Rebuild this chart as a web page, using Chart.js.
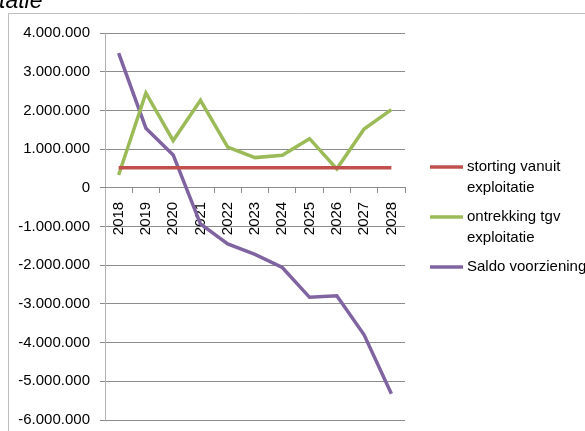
<!DOCTYPE html>
<html>
<head>
<meta charset="utf-8">
<script src="https://cdn.jsdelivr.net/npm/chart.js@4"></script>
<style>
  html, body { margin: 0; padding: 0; background: #fff; }
  #wrap { position: relative; width: 585px; height: 431px; overflow: hidden; }
</style>
</head>
<body>
<div id="wrap"><canvas id="chart" width="585" height="431"></canvas></div>
<script>
"use strict";

const TITLE_TEXT = "tatie";
const YEARS = ["2018", "2019", "2020", "2021", "2022", "2023", "2024", "2025", "2026", "2027", "2028"];
const SERIES_NAMES = ["storting vanuit exploitatie", "ontrekking tgv exploitatie", "Saldo voorziening"];
const STORTING = [520000, 520000, 520000, 520000, 520000, 520000, 520000, 520000, 520000, 520000, 520000];
const ONTREKKING = [330000, 2450000, 1220000, 2260000, 1050000, 780000, 840000, 1270000, 490000, 1520000, 2020000];
const SALDO = [3480000, 1540000, 850000, -930000, -1450000, -1720000, -2060000, -2830000, -2790000, -3800000, -5320000];
const Y_MIN = -6000000;
const Y_MAX = 4000000;
const Y_STEP = 1000000;

// Excel 2007 default palette
const COLORS = ["#c0504d", "#9bbb59", "#8064a2"];
const FONT = "'Liberation Sans', Arial, sans-serif";

function fmtNumber(v) {
  if (v === 0) return "0";
  const s = Math.abs(v).toString().replace(/\B(?=(\d{3})+(?!\d))/g, ".");
  return (v < 0 ? "-" : "") + s;
}

// frame + cut-off title, drawn under the chart
const framePlugin = {
  id: "frame",
  beforeDraw(chart) {
    const ctx = chart.ctx;
    ctx.save();
    ctx.fillStyle = "#fff";
    ctx.fillRect(0, 0, chart.width, chart.height);
    ctx.strokeStyle = "#bdbdbd";
    ctx.lineWidth = 1;
    ctx.beginPath();
    ctx.moveTo(8.5, chart.height);
    ctx.lineTo(8.5, 13.5);
    ctx.lineTo(chart.width, 13.5);
    ctx.stroke();
    ctx.fillStyle = "#000";
    ctx.font = "italic 23px " + FONT;
    ctx.textBaseline = "alphabetic";
    ctx.fillText(TITLE_TEXT, -1, 8);
    ctx.restore();
  }
};

// legend on the right with wrapped labels, like Excel does
const legendPlugin = {
  id: "sideLegend",
  afterDraw(chart) {
    const ctx = chart.ctx;
    const lineH = 21;
    const maxW = 125;
    let y = 167;
    ctx.save();
    ctx.font = "15px " + FONT;
    ctx.textBaseline = "middle";
    chart.data.datasets.forEach(ds => {
      // word wrap
      const words = ds.label.split(" ");
      const lines = [];
      let cur = "";
      words.forEach(w => {
        const test = cur ? cur + " " + w : w;
        if (cur && ctx.measureText(test).width > maxW) {
          lines.push(cur);
          cur = w;
        } else {
          cur = test;
        }
      });
      if (cur) lines.push(cur);

      ctx.strokeStyle = ds.borderColor;
      ctx.lineWidth = 3.5;
      ctx.beginPath();
      ctx.moveTo(430, y);
      ctx.lineTo(463, y);
      ctx.stroke();

      ctx.fillStyle = "#000";
      lines.forEach((ln, i) => ctx.fillText(ln, 467, y + i * lineH));
      y += lines.length * lineH + 8;
    });
    ctx.restore();
  }
};

Chart.defaults.font.family = FONT;
Chart.defaults.font.size = 15;
Chart.defaults.color = "#000";

const ctx = document.getElementById("chart").getContext("2d");
const _ = new Chart(ctx, {
  type: "line",
  data: {
    labels: YEARS,
    datasets: [
      { label: SERIES_NAMES[0], data: STORTING },
      { label: SERIES_NAMES[1], data: ONTREKKING },
      { label: SERIES_NAMES[2], data: SALDO },
    ].map((d, i) => Object.assign(d, {
      borderColor: COLORS[i],
      backgroundColor: COLORS[i],
      borderWidth: 3.5,
      pointRadius: 0,
      tension: 0,
      fill: false,
    })),
  },
  options: {
    responsive: false,
    animation: false,
    layout: { padding: { left: 0, top: 33, right: 180, bottom: 11 } },
    plugins: {
      legend: { display: false },
      tooltip: { enabled: false },
    },
    scales: {
      y: {
        min: Y_MIN,
        max: Y_MAX,
        afterFit: s => {
          s.width = 105;
          // tick padding also pads top/bottom, which Excel does not do
          s.paddingTop = 0;
          s.paddingBottom = 0;
        },
        ticks: {
          stepSize: Y_STEP,
          padding: 10,
          callback: v => fmtNumber(v),
        },
        grid: { color: "#8c8c8c", tickLength: 5 },
        border: { display: true, color: "#b0b0b0" },
      },
      x: {
        position: { y: 0 },
        offset: true,
        ticks: { minRotation: 90, maxRotation: 90, autoSkip: false, padding: 9 },
        grid: { offset: true, drawOnChartArea: false, drawTicks: true, tickLength: 5, color: "#8c8c8c" },
        border: { display: true, color: "#8c8c8c" },
      },
    },
  },
  plugins: [framePlugin, legendPlugin],
});
</script>
</body>
</html>
